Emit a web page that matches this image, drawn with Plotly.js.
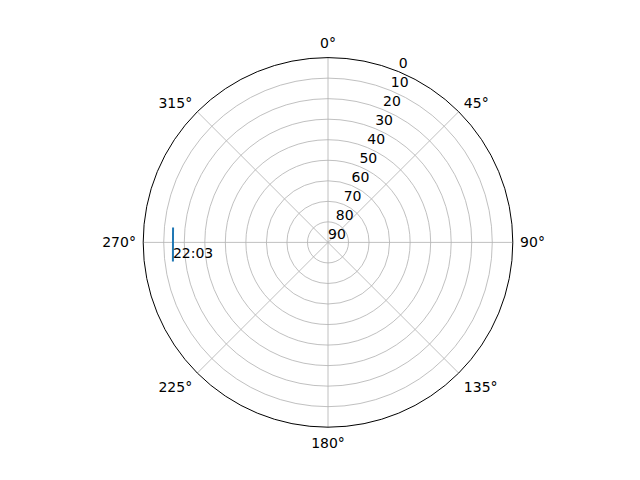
<!DOCTYPE html>
<html>
<head>
<meta charset="utf-8">
<script src="https://cdn.plot.ly/plotly-3.0.1.min.js"></script>
<style>
  html, body { margin: 0; padding: 0; background: #fff; }
  #chart { width: 640px; height: 480px; }
</style>
</head>
<body>
<div id="chart"></div>
<script>
// satellite track (azimuth in degrees, elevation in degrees)
var azimuth = [275.5, 270, 263];
var elevation = [14.2, 14.5, 13.9];
var trackLabel = '22:03';

var angleTicks = [0, 45, 90, 135, 180, 225, 270, 315];
var angleLabels = ['0°', '45°', '90°', '135°', '180°', '225°', '270°', '315°'];
var elevTicks = [0, 10, 20, 30, 40, 50, 60, 70, 80, 90];
var elevLabels = ['0', '10', '20', '30', '40', '50', '60', '70', '80', '90'];
var elevLabelAzimuth = 22.5;

var last = azimuth.length - 1;

var data = [
    {
        type: 'scatterpolar',
        mode: 'lines',
        theta: azimuth,
        r: elevation,
        line: { color: '#1f77b4', width: 2 },
        hoverinfo: 'skip'
    },
    {
        type: 'scatterpolar',
        mode: 'text',
        theta: [azimuth[last]],
        r: [elevation[last]],
        text: [trackLabel],
        textposition: 'top right',
        textfont: { family: 'DejaVu Sans', size: 14, color: '#000' },
        cliponaxis: false,
        hoverinfo: 'skip'
    },
    // radial tick labels, horizontal like matplotlib
    {
        type: 'scatterpolar',
        mode: 'text',
        theta: elevTicks.map(function () { return elevLabelAzimuth; }),
        r: elevTicks,
        text: elevLabels,
        textposition: 'top right',
        textfont: { family: 'DejaVu Sans', size: 14, color: '#000' },
        cliponaxis: false,
        hoverinfo: 'skip'
    }
];

var layout = {
    width: 640,
    height: 480,
    margin: { l: 0, r: 0, t: 0, b: 0 },
    paper_bgcolor: '#fff',
    showlegend: false,
    font: { family: 'DejaVu Sans', size: 14, color: '#000' },
    polar: {
        domain: { x: [0.125, 0.9], y: [0.11, 0.88] },
        bgcolor: '#fff',
        angularaxis: {
            rotation: 90,
            direction: 'clockwise',
            tickmode: 'array',
            tickvals: angleTicks,
            ticktext: angleLabels,
            ticks: 'outside',
            ticklen: 4,
            tickcolor: 'rgba(0,0,0,0)',
            showgrid: true,
            gridcolor: '#b0b0b0',
            gridwidth: 0.8,
            showline: true,
            linecolor: '#000',
            linewidth: 1,
            tickfont: { size: 14 }
        },
        radialaxis: {
            range: [90, 0],
            tickmode: 'array',
            tickvals: elevTicks,
            showticklabels: false,
            ticks: '',
            showline: false,
            showgrid: true,
            gridcolor: '#b0b0b0',
            gridwidth: 0.8
        }
    }
};

Plotly.newPlot('chart', data, layout, { displayModeBar: false, staticPlot: true });
</script>
</body>
</html>
